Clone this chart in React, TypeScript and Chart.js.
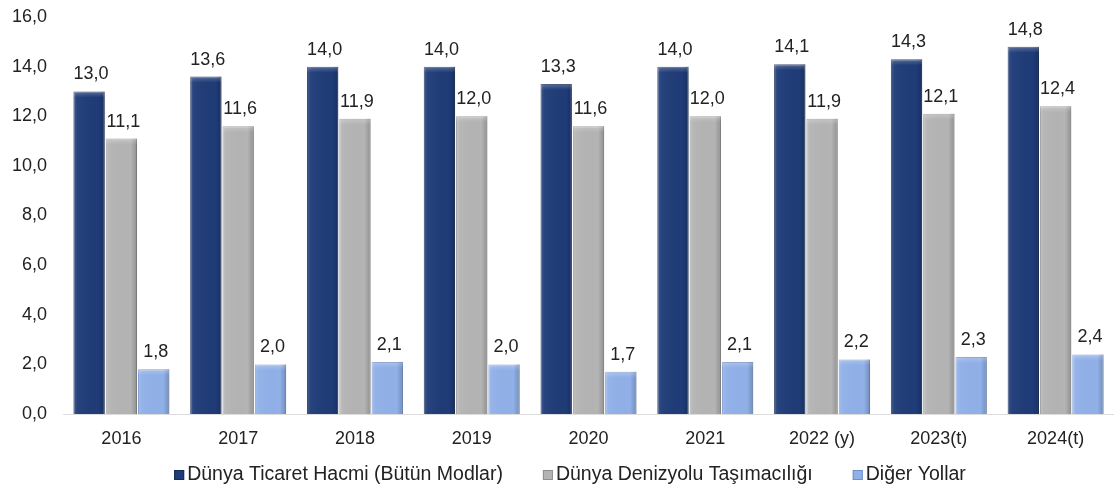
import React, { useEffect, useRef } from "react";
import { Chart, registerables } from "chart.js";

Chart.register(...registerables);

const categories = ["2016", "2017", "2018", "2019", "2020", "2021", "2022 (y)", "2023(t)", "2024(t)"];
const tradeVolume = [13.0, 13.6, 14.0, 14.0, 13.3, 14.0, 14.1, 14.3, 14.8];
const seaborne = [11.1, 11.6, 11.9, 12.0, 11.6, 12.0, 11.9, 12.1, 12.4];
const otherModes = [1.8, 2.0, 2.1, 2.0, 1.7, 2.1, 2.2, 2.3, 2.4];
const seriesNames = ["Dünya Ticaret Hacmi (Bütün Modlar)", "Dünya Denizyolu Taşımacılığı", "Diğer Yollar"];
const seriesColors = ["#1f3c78", "#b4b4b4", "#90b0e8"];
const seriesBorders = ["#142a5a", "#8e8e8e", "#6e8fca"];
const yTicks = [0, 2, 4, 6, 8, 10, 12, 14, 16];

const fmt = (v: number) => v.toFixed(1).replace(".", ",");

const FONT = "'Liberation Sans', Arial, sans-serif";

const bevelPlugin = {
  id: "bevel",
  afterDatasetsDraw(chart: any) {
    const ctx = chart.ctx;
    chart.data.datasets.forEach((ds: any, i: number) => {
      const meta = chart.getDatasetMeta(i);
      meta.data.forEach((bar: any) => {
        const { x, y, width, base } = bar.getProps(["x", "y", "width", "base"], true);
        const left = x - width / 2;
        const h = base - y;
        ctx.save();
        const g = ctx.createLinearGradient(left, 0, left + width, 0);
        g.addColorStop(0, "rgba(255,255,255,0.16)");
        g.addColorStop(0.12, "rgba(255,255,255,0.04)");
        g.addColorStop(0.8, "rgba(0,0,0,0)");
        g.addColorStop(1, "rgba(0,0,0,0.2)");
        ctx.fillStyle = g;
        ctx.fillRect(left, y, width, h);
        const gt = ctx.createLinearGradient(0, y, 0, y + 6);
        gt.addColorStop(0, "rgba(255,255,255,0.25)");
        gt.addColorStop(1, "rgba(255,255,255,0)");
        ctx.fillStyle = gt;
        ctx.fillRect(left, y, width, Math.min(6, h));
        ctx.restore();
      });
    });
  },
};

const labelPlugin = {
  id: "valueLabels",
  afterDatasetsDraw(chart: any) {
    const ctx = chart.ctx;
    ctx.save();
    ctx.font = `18px ${FONT}`;
    ctx.fillStyle = "#222222";
    ctx.textAlign = "center";
    ctx.textBaseline = "alphabetic";
    chart.data.datasets.forEach((ds: any, i: number) => {
      const meta = chart.getDatasetMeta(i);
      meta.data.forEach((bar: any, j: number) => {
        const { x, y } = bar.getProps(["x", "y"], true);
        ctx.fillText(fmt(ds.data[j]), x + 2, y - 12);
      });
    });
    ctx.restore();
  },
};

const legendPlugin = {
  id: "customLegend",
  afterDraw(chart: any) {
    const ctx = chart.ctx;
    ctx.save();
    ctx.font = `19.5px ${FONT}`;
    ctx.textBaseline = "middle";
    ctx.textAlign = "left";
    const box = 10;
    const boxGap = 3;
    const itemGap = 40;
    const widths = seriesNames.map((n) => ctx.measureText(n).width);
    const total = widths.reduce((a, w) => a + box + boxGap + w, 0) + itemGap * (seriesNames.length - 1);
    let x = 570 - total / 2;
    const yc = 475;
    seriesNames.forEach((n, i) => {
      ctx.fillStyle = seriesColors[i];
      ctx.fillRect(x, yc - box / 2, box, box);
      ctx.strokeStyle = seriesBorders[i];
      ctx.lineWidth = 1;
      ctx.strokeRect(x + 0.5, yc - box / 2 + 0.5, box - 1, box - 1);
      ctx.fillStyle = "#222222";
      ctx.fillText(n, x + box + boxGap, yc);
      x += box + boxGap + widths[i] + itemGap;
    });
    ctx.restore();
  },
};

export default function App() {
  const ref = useRef<HTMLCanvasElement | null>(null);
  useEffect(() => {
    document.body.style.margin = "0";
    const chart = new Chart(ref.current as HTMLCanvasElement, {
      type: "bar",
      data: {
        labels: categories,
        datasets: [0, 1, 2].map((i) => ({
          label: seriesNames[i],
          data: [tradeVolume, seaborne, otherModes][i],
          backgroundColor: seriesColors[i],
          borderColor: seriesBorders[i],
          borderWidth: 1,
        })),
      },
      options: {
        animation: false,
        responsive: false,
        maintainAspectRatio: false,
        layout: { padding: { top: 17, left: 0, right: 0, bottom: 40 } },
        datasets: { bar: { categoryPercentage: 0.83, barPercentage: 0.97 } } as any,
        scales: {
          x: {
            afterFit: (axis: any) => {
              axis.height = 40;
              axis.paddingLeft = 0;
              axis.paddingRight = 0;
            },
            grid: { display: false, drawTicks: false },
            border: { display: true, color: "#dcdcdc" },
            ticks: { color: "#222", font: { family: FONT, size: 18 }, padding: 14, maxRotation: 0 },
          },
          y: {
            min: 0,
            max: 16,
            afterFit: (axis: any) => {
              axis.width = 63;
              axis.paddingTop = 0;
              axis.paddingBottom = 0;
            },
            afterBuildTicks: (axis: any) => {
              axis.ticks = yTicks.map((v) => ({ value: v }));
            },
            grid: { display: false, drawTicks: false },
            border: { display: false },
            ticks: { color: "#222", font: { family: FONT, size: 18 }, padding: 16, callback: (v: any) => fmt(Number(v)) },
          },
        },
        plugins: {
          legend: { display: false },
          tooltip: { enabled: false },
        },
      },
      plugins: [bevelPlugin, labelPlugin, legendPlugin],
    });
    return () => chart.destroy();
  }, []);
  return (
    <div style={{ width: 1114, height: 494, background: "#fff" }}>
      <canvas ref={ref} width={1114} height={494} style={{ display: "block" }} />
    </div>
  );
}
